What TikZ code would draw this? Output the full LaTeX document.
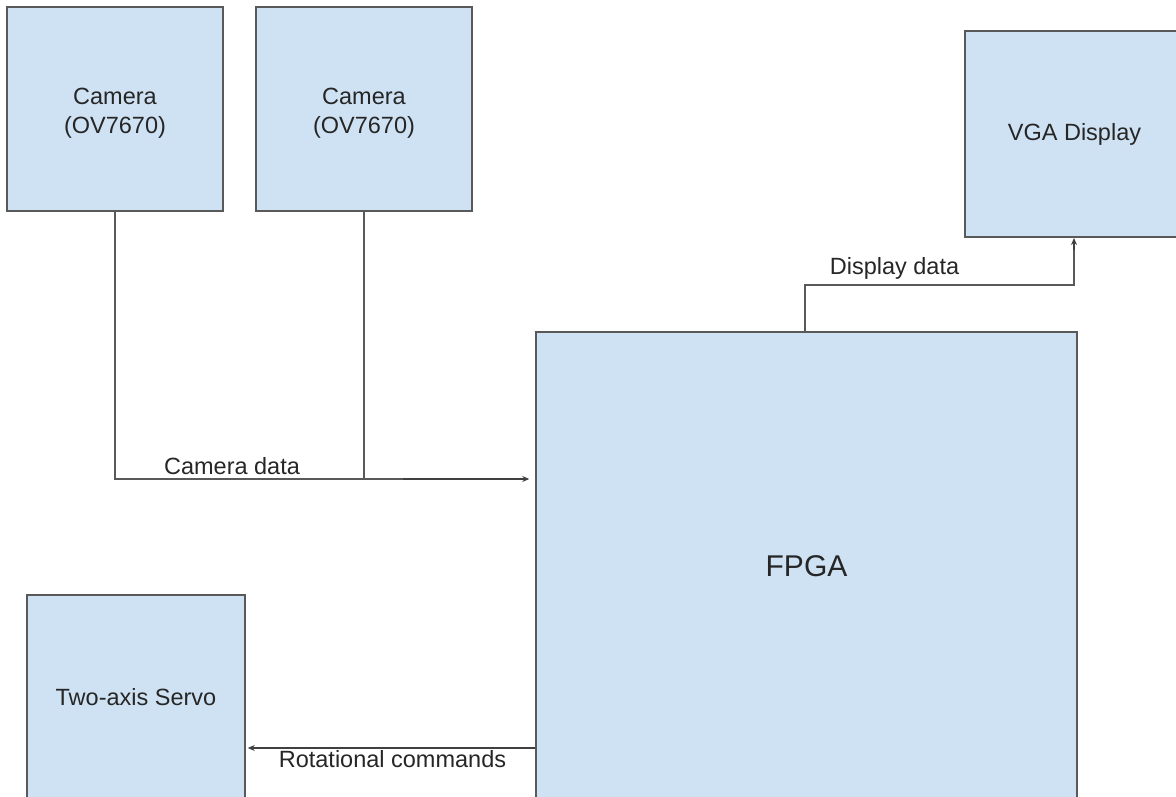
\documentclass[tikz,border=0pt]{standalone}
\usepackage{fontspec}
\setmainfont{Liberation Sans}
\usetikzlibrary{arrows.meta}
\definecolor{boxfill}{HTML}{CFE2F3}
\definecolor{boxline}{HTML}{595959}
\tikzset{
  block/.style={draw=boxline, line width=1.5pt, fill=boxfill, inner sep=0pt,
    align=center, font=\fontsize{23.5}{29}\selectfont, text=black!85},
  camtext/.style={align=center, font=\fontsize{23.5}{29}\selectfont, text=black!85, inner sep=0pt, yshift=-4.5pt},
  wire/.style={draw=boxline, line width=1.3pt},
  tip/.style={-{Stealth[length=7pt,width=6pt]}, draw=black!75},
  lbl/.style={font=\fontsize{23.5}{29}\selectfont, text=black!85, inner sep=0pt, anchor=base}
}
\begin{document}
\begin{tikzpicture}[x=1pt,y=-1pt]
      \useasboundingbox (0,0) rectangle (1176,797);
      \clip (0,0) rectangle (1176,797);
      \node[block, minimum width=216pt, minimum height=204pt,
        label={[camtext]center:{Camera\\(OV7670)}}] (camA) at (115,109) {};
      \node[block, minimum width=216pt, minimum height=204pt,
        label={[camtext]center:{Camera\\(OV7670)}}] (camB) at (364,109) {};
      \node[block, minimum width=219pt, minimum height=206pt] (vga) at (1074.5,134) {VGA Display};
      \node[block, minimum width=541pt, minimum height=468pt, font=\fontsize{30}{36}\selectfont] (fpga) at (806.5,566) {FPGA};
      \node[block, minimum width=218pt, minimum height=204pt] (servo) at (136,697) {Two-axis Servo};
      \coordinate (join) at (403,479);
      \coordinate (bend) at (805,285);
      \draw[wire] (camA.south) |- (join);
      \draw[wire] (camB.south) -- (camB.south |- join);
      \draw[wire, tip, line width=2pt, shorten >=6pt] (join) -- (fpga.west |- join);
      \node[lbl] (camdata) at (232,474) {Camera data};
      \draw[wire] (fpga.north -| bend) -- (bend) -| (1074,240);
      \draw[wire, tip] (1074,250) -- (1074,238);
      \node[lbl] (dispdata) at (894.5,274) {Display data};
      \draw[wire, tip, shorten >=2pt] (fpga.west |- 0,748) -- (servo.east |- 0,748);
      \node[lbl] (rotcmd) at (392.5,767) {Rotational commands};
    \end{tikzpicture}
\end{document}
